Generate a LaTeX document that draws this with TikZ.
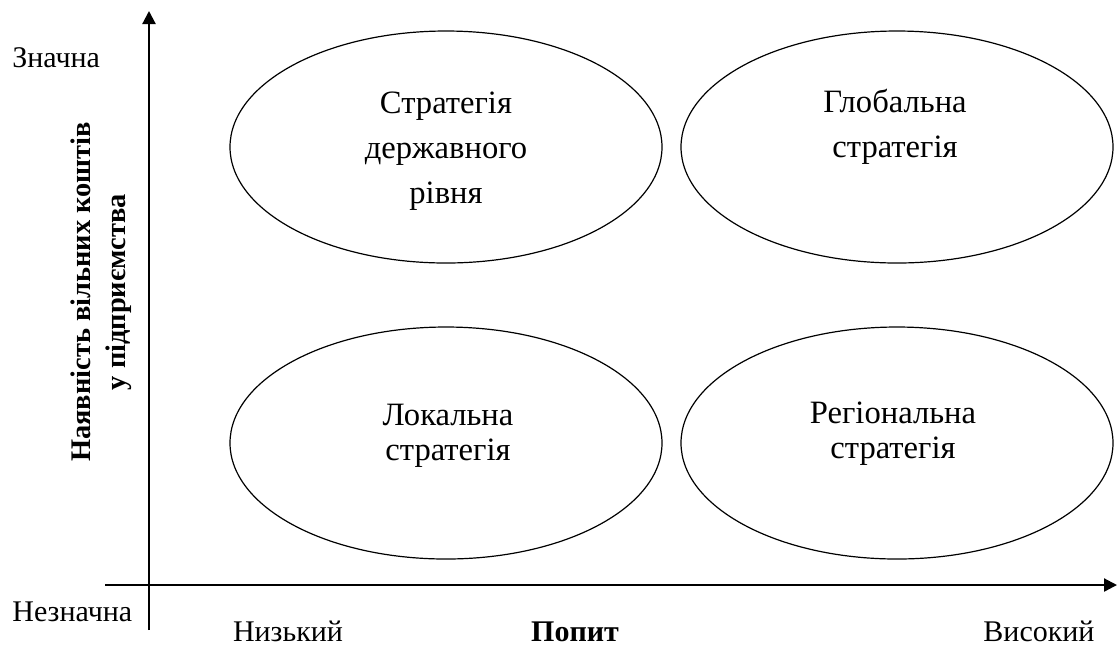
\documentclass[tikz,border=0pt]{standalone}
\usepackage{fontspec}
\setmainfont{Liberation Serif}
\usetikzlibrary{shapes.geometric, arrows.meta}

\begin{document}
\begin{tikzpicture}[
  x=0.5pt, y=-0.5pt,
  strat/.style={draw, ellipse, line width=0.6pt, minimum width=216pt, minimum height=116pt, inner sep=0pt},
  txt/.style={font=\fontsize{16.3}{#1}\selectfont, align=center, anchor=base, inner sep=0pt},
  lbl/.style={font=\fontsize{15}{18}\selectfont, inner sep=0pt, anchor=base},
  arr/.style={-{Triangle[length=6.5pt, width=6.5pt]}, line width=1.1pt}
]
  \useasboundingbox (0,0) rectangle (1118,645);

  % осі
  \coordinate (ybot) at (149,630);
  \coordinate (ytop) at (149,11);
  \coordinate (xleft) at (105,585);
  \coordinate (xright) at (1117,585);
  \draw[arr] (ybot) -- (ytop);
  \draw[arr] (xleft) -- (xright);

  % стратегії
  \node[strat] (derzh) at (446,147) {};
  \node[strat] (glob) at (897,147) {};
  \node[strat] (lok) at (446,443) {};
  \node[strat] (reg) at (897,443) {};

  \node[txt=22.5pt] (derzh-t) at (446,203) {Стратегія\\державного\\рівня};
  \node[txt=22.5pt] (glob-t) at (895,157) {Глобальна\\стратегія};
  \node[txt=17.5pt] (lok-t) at (448,460) {Локальна\\стратегія};
  \node[txt=17.5pt] (reg-t) at (893,458) {Регіональна\\стратегія};

  % підписи осей
  \node[lbl, anchor=base west] (hi) at (12,67) {Значна};
  \node[lbl, anchor=base west] (lo) at (12,621) {Незначна};
  \node[lbl] (low) at (288,641) {Низький};
  \node[lbl, font=\fontsize{15}{18}\selectfont\bfseries] (demand) at (575,641) {Попит};
  \node[lbl] (high) at (1039,641) {Високий};
  \node[font=\fontsize{14.2}{17.5}\selectfont\bfseries, align=center, rotate=90, inner sep=0pt] (funds) at (101,292) {Наявність вільних коштів\\у підприємства};
\end{tikzpicture}
\end{document}
